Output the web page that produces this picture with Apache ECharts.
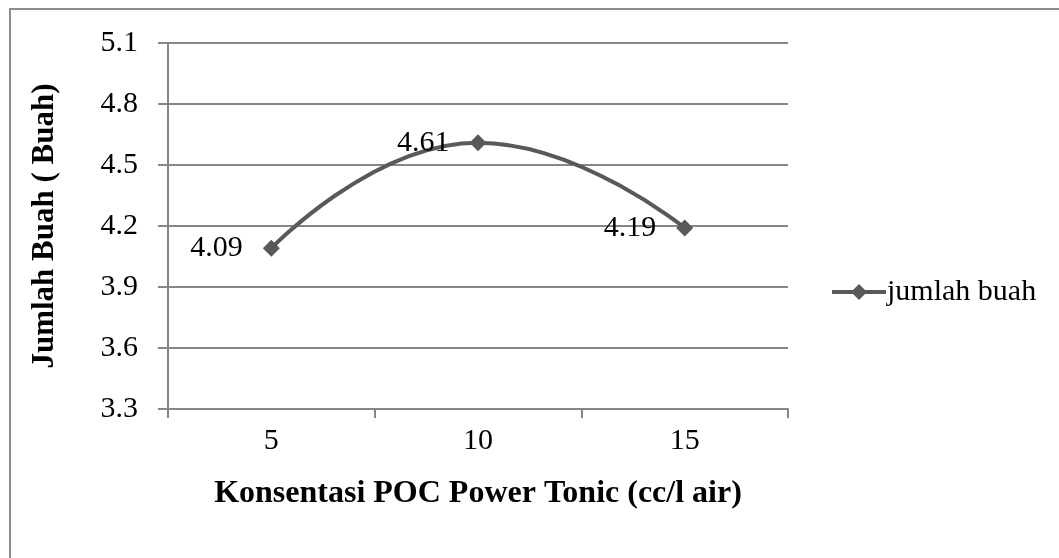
<!DOCTYPE html>
<html>
<head>
<meta charset="utf-8">
<script src="https://cdn.jsdelivr.net/npm/echarts@6/dist/echarts.min.js"></script>
<style>
  html, body { margin: 0; padding: 0; background: #fff; }
  #chart { width: 1059px; height: 558px; }
</style>
</head>
<body>
<div id="chart"></div>
<script>
"use strict";
var categories = ['5', '10', '15'];
var jumlahBuah = [4.09, 4.61, 4.19];
var seriesName = 'jumlah buah';

var serif = '"Liberation Serif", "Times New Roman", serif';

echarts.init(document.getElementById('chart'))
.setOption({
  backgroundColor: '#fff',
  animation: false,
  color: ['#595959'],
  textStyle: {
    fontFamily: serif,
    color: '#000'
  },
  graphic: [
    {
      type: 'rect',
      shape: { x: 10, y: 9, width: 1100, height: 600 },
      style: { fill: 'none', stroke: '#8c8c8c', lineWidth: 2 }
    }
  ],
  legend: {
    orient: 'vertical',
    left: 825,
    top: 272,
    itemWidth: 54,
    itemHeight: 20,
    itemGap: 4,
    data: [seriesName],
    lineStyle: { width: 4, color: '#595959' },
    itemStyle: { color: '#595959' },
    textStyle: {
      fontFamily: serif,
      fontSize: 30,
      padding: [0, 0, 0, -4],
      color: '#000'
    }
  },
  grid: {
    left: 168,
    right: 271,
    top: 43,
    bottom: 149
  },
  xAxis: {
    type: 'category',
    data: categories,
    boundaryGap: true,
    name: 'Konsentasi POC Power Tonic (cc/l air)',
    nameLocation: 'middle',
    nameGap: 69,
    nameTextStyle: {
      fontFamily: serif,
      fontSize: 32,
      fontWeight: 'bold',
      color: '#000'
    },
    axisLine: { lineStyle: { color: '#868686', width: 2 } },
    axisTick: { show: true, length: 9, lineStyle: { color: '#868686', width: 2 } },
    axisLabel: {
      margin: 17,
      fontFamily: serif,
      fontSize: 30,
      color: '#000'
    }
  },
  yAxis: {
    type: 'value',
    min: 3.3,
    max: 5.1,
    interval: 0.3,
    name: 'Jumlah Buah ( Buah)',
    nameLocation: 'middle',
    nameGap: 108,
    nameTextStyle: {
      fontFamily: serif,
      fontSize: 31,
      fontWeight: 'bold',
      color: '#000'
    },
    axisLine: { show: true, lineStyle: { color: '#868686', width: 2 } },
    axisTick: { show: true, length: 10, lineStyle: { color: '#868686', width: 2 } },
    axisLabel: {
      margin: 30,
      fontFamily: serif,
      fontSize: 30,
      color: '#000',
      formatter: function (v) { return v.toFixed(1); }
    },
    splitLine: { lineStyle: { color: '#868686', width: 2 } }
  },
  series: [
    {
      name: seriesName,
      type: 'line',
      data: jumlahBuah,
      smooth: 0.5,
      symbol: 'diamond',
      symbolSize: 17,
      lineStyle: { width: 4, color: '#595959' },
      itemStyle: { color: '#595959' },
      label: {
        show: true,
        position: 'left',
        distance: 20,
        fontFamily: serif,
        fontSize: 30,
        color: '#000'
      }
    }
  ]
});
</script>
</body>
</html>
